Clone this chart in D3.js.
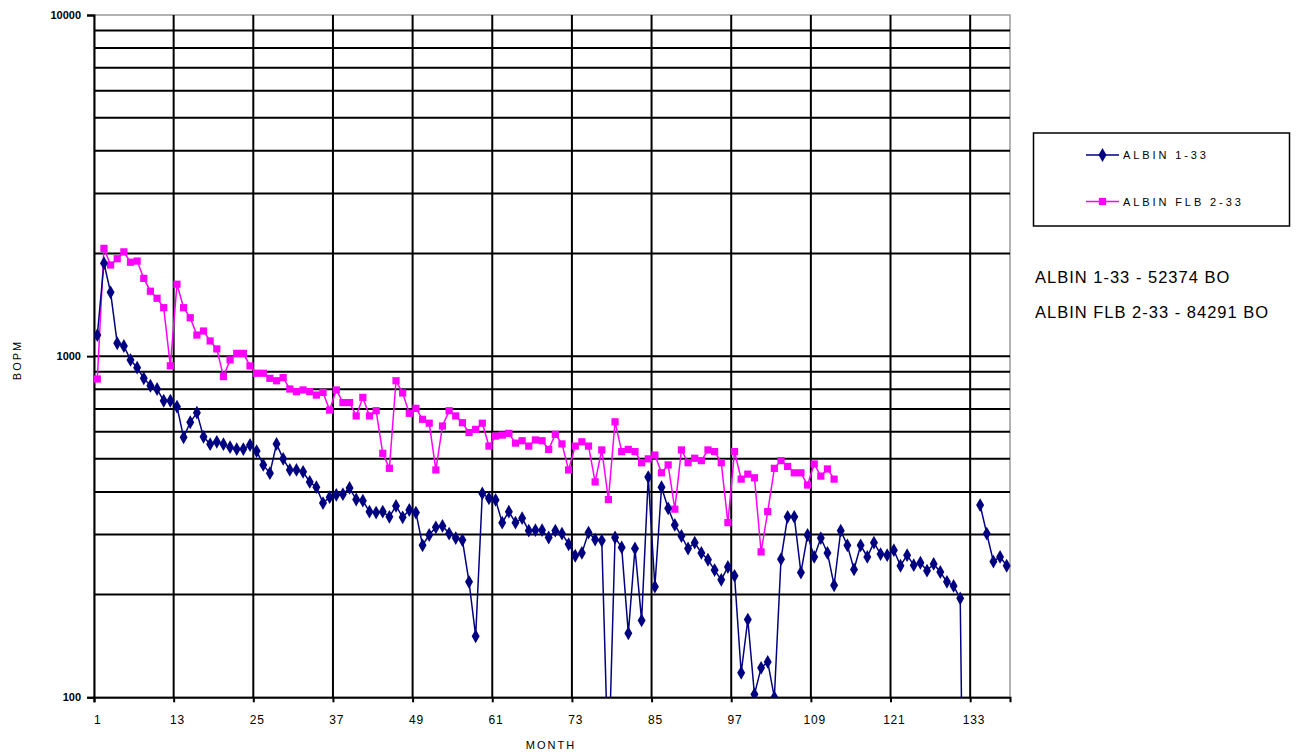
<!DOCTYPE html>
<html>
<head>
<meta charset="utf-8">
<script src="https://cdn.jsdelivr.net/npm/d3@7"></script>
<style>
  html, body { margin: 0; padding: 0; background: #fff; }
  svg { display: block; font-family: "Liberation Sans", Arial, sans-serif; }
</style>
</head>
<body>
<svg id="chart" width="1296" height="755"></svg>
<script>
// ---- data ----
const seriesNames = ["ALBIN 1-33", "ALBIN FLB 2-33"];
const monthCount = 138;
const monthTickLabels = [1, 13, 25, 37, 49, 61, 73, 85, 97, 109, 121, 133];
const yTickLabels = [100, 1000, 10000];
const yGridValues = [200, 300, 400, 500, 600, 700, 800, 900, 1000,
  2000, 3000, 4000, 5000, 6000, 7000, 8000, 9000, 10000];

const albin133 = [
  1153, 1872, 1538, 1091, 1071, 975, 925, 861, 819, 801,
  740, 740, 711, 578, 640, 683, 580, 552, 561, 552,
  541, 534, 534, 549, 527, 480, 454, 553, 500, 464,
  464, 458, 428, 413, 371, 386, 392, 394, 411, 380,
  377, 350, 348, 350, 338, 364, 337, 354, 348, 279,
  299, 315, 318, 302, 293, 289, 218, 151, 396, 383,
  379, 325, 350, 325, 335, 308, 309, 309, 294, 308,
  302, 281, 260, 265, 304, 290, 288, 60, 294, 275,
  154, 273, 168, 442, 211, 413, 358, 320, 297, 273,
  284, 265, 253, 236, 221, 241, 227, 118, 169, 102,
  122, 127, 100, 254, 338, 338, 232, 299, 258, 293,
  265, 213, 308, 279, 237, 279, 258, 284, 263, 261,
  270, 243, 261, 244, 248, 235, 246, 233, 218, 212,
  195, 5, null, 366, 302, 250, 258, 243
];

const albinFlb233 = [
  857, 2070, 1850, 1930, 2020, 1885, 1900, 1690, 1550, 1478,
  1387, 937, 1625, 1387, 1296, 1153, 1185, 1108, 1050, 871,
  975, 1019, 1019, 936, 891, 891, 861, 847, 865, 801,
  787, 796, 787, 769, 783, 695, 796, 731, 731, 668,
  757, 668, 692, 519, 469, 847, 780, 680, 703, 653,
  636, 464, 624, 692, 668, 638, 597, 610, 636, 545,
  583, 587, 594, 556, 565, 545, 568, 565, 533, 590,
  553, 464, 545, 561, 545, 428, 531, 380, 642, 525,
  533, 525, 487, 500, 513, 455, 480, 356, 531, 487,
  502, 494, 531, 525, 487, 325, 525, 436, 451, 440,
  267, 350, 469, 494, 475, 455, 455, 419, 483, 445,
  467, 436
];

const totalsText = ["ALBIN 1-33 - 52374 BO", "ALBIN FLB 2-33 - 84291 BO"];

// ---- layout ----
const svg = d3.select("#chart");
const L = 94, R = 1010, T = 15, B = 697.3;
const blue = "#000080", pink = "#FF00FF";

const x = d3.scaleLinear().domain([0.5, monthCount + 0.5]).range([L, R]);
const y = d3.scaleLog().domain([100, 10000]).range([B, T]);

svg.append("rect").attr("width", 1296).attr("height", 755).attr("fill", "#fff");

svg.append("defs").append("clipPath").attr("id", "plotClip")
  .append("rect").attr("x", L).attr("y", T - 5).attr("width", R - L + 5).attr("height", B - T + 5);

// plot border (grey)
svg.append("rect").attr("x", L).attr("y", T).attr("width", R - L).attr("height", B - T)
  .attr("fill", "none").attr("stroke", "#999").attr("stroke-width", 1.5);

// horizontal grid
const grid = svg.append("g");
grid.selectAll("line.h").data(yGridValues.filter(v => v < 10000)).join("line")
  .attr("x1", L).attr("x2", R)
  .attr("y1", d => y(d)).attr("y2", d => y(d))
  .attr("stroke", "#000").attr("stroke-width", 2);

// vertical grid at category boundaries before each labelled month
const boundaries = monthTickLabels.slice(1).map(m => m - 0.5);
grid.selectAll("line.v").data(boundaries).join("line")
  .attr("x1", d => x(d)).attr("x2", d => x(d))
  .attr("y1", T).attr("y2", B)
  .attr("stroke", "#000").attr("stroke-width", 2);

// x axis ticks (at boundaries)
const xTickAxis = d3.axisBottom(x).tickValues([0.5].concat(boundaries)).tickSize(5).tickFormat("");
const gxt = svg.append("g").attr("transform", `translate(0,${B})`).call(xTickAxis);
gxt.select(".domain").attr("stroke", "#000").attr("stroke-width", 2);
gxt.selectAll(".tick line").attr("stroke", "#000").attr("stroke-width", 2);

// x axis labels at category centres
const xLabelAxis = d3.axisBottom(x).tickValues(monthTickLabels).tickSize(0).tickPadding(18).tickFormat(d3.format("d"));
const gxl = svg.append("g").attr("transform", `translate(0,${B})`).call(xLabelAxis);
gxl.select(".domain").remove();
gxl.selectAll("text").attr("font-size", 12).attr("fill", "#000")
  .attr("font-family", "'Liberation Sans', Arial, sans-serif").style("letter-spacing", "0.8px");

// y axis
const yAxis = d3.axisLeft(y).tickValues(yTickLabels).tickSize(7).tickPadding(6).tickFormat(d3.format("d"));
const gy = svg.append("g").attr("transform", `translate(${L},0)`).call(yAxis);
gy.select(".domain").attr("stroke", "#000").attr("stroke-width", 2);
gy.selectAll(".tick line").attr("stroke", "#000").attr("stroke-width", 2);
gy.selectAll("text").attr("font-size", 11).attr("font-weight", "bold").attr("fill", "#000")
  .attr("font-family", "'Liberation Sans', Arial, sans-serif");

// axis titles
svg.append("text").attr("x", 551).attr("y", 749).attr("text-anchor", "middle")
  .attr("font-size", 11).attr("fill", "#000").style("letter-spacing", "2px").text("MONTH");
svg.append("text").attr("transform", "translate(21,360) rotate(-90)").attr("text-anchor", "middle")
  .attr("font-size", 11).attr("fill", "#000").style("letter-spacing", "2px").text("BOPM");

// series
const plot = svg.append("g").attr("clip-path", "url(#plotClip)");
const toPts = arr => arr.map((v, i) => ({ m: i + 1, v }));
const line = d3.line().defined(d => d.v != null).x(d => x(d.m)).y(d => y(d.v));

const series = [
  { name: seriesNames[0], data: toPts(albin133), color: blue, sym: d3.symbolDiamond, size: 55 },
  { name: seriesNames[1], data: toPts(albinFlb233), color: pink, sym: d3.symbolSquare, size: 52 }
];

series.slice().reverse().forEach(s => {
  plot.append("path").datum(s.data).attr("d", line)
    .attr("fill", "none").attr("stroke", s.color).attr("stroke-width", 1.5);
  plot.selectAll(null).data(s.data.filter(d => d.v != null && d.v >= 100)).join("path")
    .attr("d", d3.symbol().type(s.sym).size(s.size))
    .attr("transform", d => `translate(${x(d.m)},${y(d.v)})`)
    .attr("fill", s.color);
});

// legend
const lg = svg.append("g");
lg.append("rect").attr("x", 1033.5).attr("y", 133).attr("width", 256).attr("height", 93)
  .attr("fill", "#fff").attr("stroke", "#000").attr("stroke-width", 1.5);
series.forEach((s, i) => {
  const ly = 155 + i * 46.5;
  lg.append("line").attr("x1", 1086).attr("x2", 1119).attr("y1", ly).attr("y2", ly)
    .attr("stroke", s.color).attr("stroke-width", 1.5);
  lg.append("path").attr("d", d3.symbol().type(s.sym).size(s.size))
    .attr("transform", `translate(1102.5,${ly})`).attr("fill", s.color);
  lg.append("text").attr("x", 1123).attr("y", ly + 4).attr("font-size", 11).attr("fill", "#000")
    .style("letter-spacing", "2.9px").text(s.name);
});

// totals text
totalsText.forEach((t, i) => {
  svg.append("text").attr("x", 1035).attr("y", 283 + i * 35).attr("font-size", 16.5)
    .attr("fill", "#000").style("letter-spacing", "1px").text(t);
});
</script>
</body>
</html>
